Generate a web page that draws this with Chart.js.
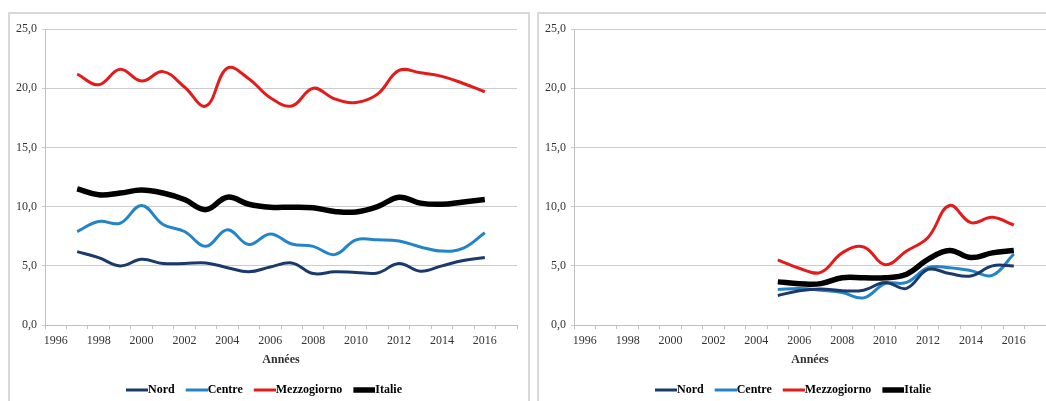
<!DOCTYPE html>
<html>
<head>
<meta charset="utf-8">
<script src="https://cdn.jsdelivr.net/npm/chart.js@4"></script>
<style>
    html, body { margin: 0; padding: 0; background: #fff; overflow: hidden; width: 1046px; height: 401px; }
    .box { position: absolute; top: 12px; width: 518px; height: 402px; border: 2px solid #d9d9d9; background: #fff; }
    #boxA { left: 8px; }
    #boxB { left: 537px; }
    canvas { display: block; }
</style>
</head>
<body>
<div class="box" id="boxA"><canvas id="chartA" width="518" height="402"></canvas></div>
<div class="box" id="boxB"><canvas id="chartB" width="518" height="402"></canvas></div>
<script>
// catégories (années) de l'axe x
const years = ['1996', '1997', '1998', '1999', '2000', '2001', '2002', '2003', '2004', '2005', '2006',
    '2007', '2008', '2009', '2010', '2011', '2012', '2013', '2014', '2015', '2016', '2017'];
const yTicks = [0, 5, 10, 15, 20, 25];

// graphique de gauche : 1997-2016
const startA = '1997';
const nordA = [6.2, 5.7, 5.0, 5.55, 5.2, 5.2, 5.25, 4.85, 4.5, 4.9, 5.25, 4.35, 4.5, 4.45, 4.4, 5.2, 4.55, 5.0, 5.45, 5.7];
const centreA = [7.9, 8.75, 8.6, 10.1, 8.5, 7.9, 6.65, 8.05, 6.8, 7.7, 6.85, 6.65, 5.95, 7.2, 7.2, 7.1, 6.6, 6.25, 6.5, 7.8];
const mezzoA = [21.2, 20.3, 21.6, 20.6, 21.4, 20.1, 18.5, 21.7, 20.8, 19.2, 18.5, 20.0, 19.1, 18.8, 19.5, 21.5, 21.3, 21.0, 20.4, 19.7];
const italieA = [11.5, 11.0, 11.15, 11.4, 11.15, 10.6, 9.75, 10.8, 10.2, 9.95, 9.95, 9.9, 9.6, 9.55, 10.0, 10.8, 10.3, 10.2, 10.4, 10.6];

// graphique de droite : 2005-2016
const startB = '2005';
const nordB = [2.5, 2.9, 3.05, 2.9, 2.95, 3.6, 3.1, 4.7, 4.35, 4.15, 5.0, 5.0];
const centreB = [3.0, 3.1, 2.95, 2.75, 2.3, 3.5, 3.6, 4.85, 4.85, 4.6, 4.2, 6.0];
const mezzoB = [5.5, 4.8, 4.45, 6.1, 6.6, 5.1, 6.25, 7.4, 10.1, 8.65, 9.1, 8.45];
const italieB = [3.65, 3.5, 3.5, 4.0, 4.0, 4.0, 4.3, 5.55, 6.3, 5.7, 6.1, 6.3];

const series = [
    { label: 'Nord', color: '#1B3A6B', width: 3 },
    { label: 'Centre', color: '#2385C8', width: 3 },
    { label: 'Mezzogiorno', color: '#E41B1B', width: 3 },
    { label: 'Italie', color: '#000000', width: 5.5 }
];

const serif = "'Liberation Serif', 'Times New Roman', serif";

// place les valeurs sur toutes les catégories (null hors période)
function spread(start, values) {
    const i0 = years.indexOf(start);
    return years.map((y, i) => (i >= i0 && i < i0 + values.length) ? values[i - i0] : null);
}

// petit trait de légende collé au texte
function legendLine(color, width) {
    const c = document.createElement('canvas');
    c.width = 28;
    c.height = Math.ceil(width) + 2;
    const ctx = c.getContext('2d');
    ctx.strokeStyle = color;
    ctx.lineWidth = width;
    ctx.beginPath();
    ctx.moveTo(6, c.height / 2);
    ctx.lineTo(28, c.height / 2);
    ctx.stroke();
    return c;
}

function makeChart(id, data) {
    const datasets = series.map((s, k) => ({
        label: s.label,
        data: spread(data.start, data.values[k]),
        borderColor: s.color,
        backgroundColor: s.color,
        borderWidth: s.width,
        tension: 0.4,
        pointRadius: 0,
        pointHoverRadius: 0,
        pointStyle: legendLine(s.color, s.width),
        fill: false
    }));

    return new Chart(document.getElementById(id), {
        type: 'line',
        data: { labels: years, datasets: datasets },
        options: {
            responsive: false,
            animation: false,
            devicePixelRatio: 1,
            layout: { padding: { left: 1, right: 11, top: 15, bottom: 10 } },
            plugins: {
                legend: {
                    position: 'bottom',
                    labels: {
                        usePointStyle: true,
                        pointStyleWidth: 16,
                        padding: 11,
                        color: '#000',
                        font: { family: serif, size: 12, weight: 'bold' }
                    }
                },
                tooltip: { enabled: false }
            },
            scales: {
                x: {
                    offset: true,
                    border: { color: '#bfbfbf', width: 1 },
                    grid: { offset: true, drawOnChartArea: false, tickLength: 4, color: '#bfbfbf' },
                    ticks: {
                        autoSkip: false,
                        maxRotation: 0,
                        padding: 6,
                        color: '#333',
                        font: { family: serif, size: 12, lineHeight: 1.0 },
                        callback: function (v, i) { return i % 2 === 0 ? years[i] : ''; }
                    },
                    title: {
                        display: true,
                        text: 'Années',
                        color: '#333',
                        padding: { top: 0, bottom: 5.5 },
                        font: { family: serif, size: 12, weight: 'bold' }
                    }
                },
                y: {
                    min: yTicks[0],
                    max: yTicks[yTicks.length - 1],
                    border: { color: '#bfbfbf', width: 1 },
                    grid: { color: '#cccccc', tickLength: 3 },
                    afterBuildTicks: function (axis) { axis.ticks = yTicks.map(v => ({ value: v })); },
                    ticks: {
                        padding: 5,
                        color: '#333',
                        font: { family: serif, size: 12 },
                        callback: function (v) { return v.toFixed(1).replace('.', ','); }
                    }
                }
            }
        }
    });
}

const chartA = makeChart('chartA', { start: startA, values: [nordA, centreA, mezzoA, italieA] });
const chartB = makeChart('chartB', { start: startB, values: [nordB, centreB, mezzoB, italieB] });
</script>
</body>
</html>
